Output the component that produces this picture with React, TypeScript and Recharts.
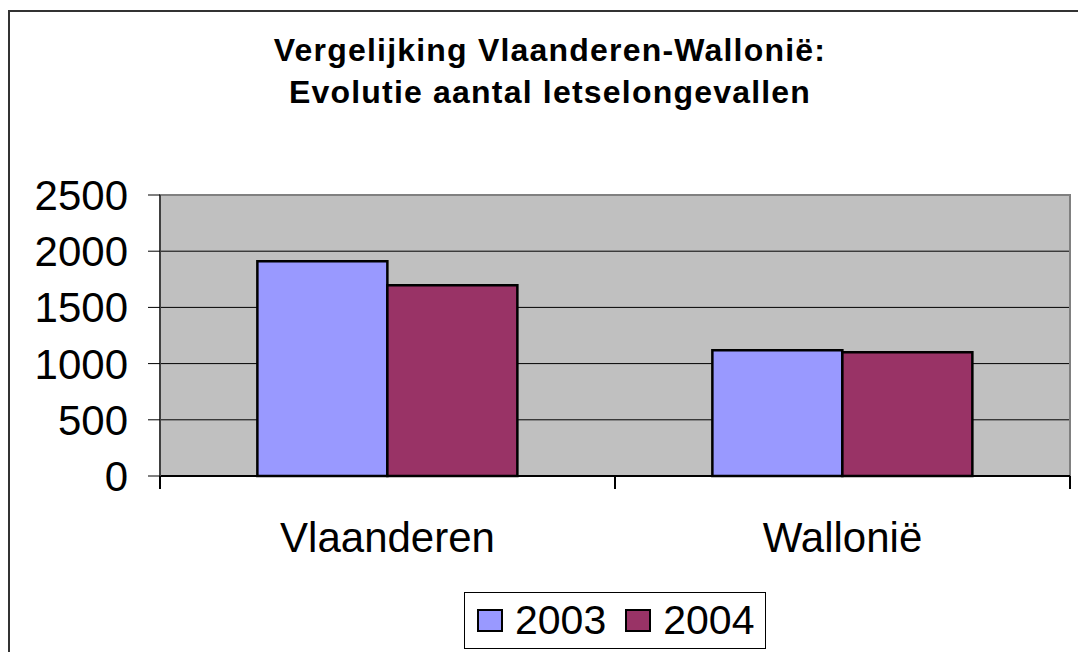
import React from 'react';
import {
  BarChart,
  Bar,
  XAxis,
  YAxis,
  CartesianGrid,
  Legend,
  ReferenceArea,
} from 'recharts';

const categories = ['Vlaanderen', 'Wallonië'];
const values2003 = [1910, 1118];
const values2004 = [1697, 1100];
const yTicks = [0, 500, 1000, 1500, 2000, 2500];

const seriesNames = ['2003', '2004'];
const seriesColors = ['#9999FF', '#993366'];

const data = categories.map((name, i) => ({
  name,
  '2003': values2003[i],
  '2004': values2004[i],
}));

const FONT = '"Liberation Sans", Arial, sans-serif';
const LABEL_GAP = 46; // distance from axis line to category label top
const EDGE_TICK = 13;

const LegendBox = () => (
  <div
    style={{
      display: 'flex',
      alignItems: 'center',
      boxSizing: 'border-box',
      border: '1px solid #000',
      height: 57,
      width: 302,
      paddingLeft: 12,
      background: '#fff',
      fontFamily: FONT,
    }}
  >
    {seriesNames.map((s, i) => (
      <div key={s} style={{ display: 'flex', alignItems: 'center', marginRight: 19 }}>
        <span
          style={{
            display: 'inline-block',
            width: 26,
            height: 23,
            boxSizing: 'border-box',
            border: '2px solid #000',
            background: seriesColors[i],
            marginRight: 12,
          }}
        />
        <span style={{ fontSize: 41, lineHeight: 1, color: '#000' }}>{s}</span>
      </div>
    ))}
  </div>
);

// category label plus tick marks on the band edges (Excel style)
const CategoryTick = (props: any) => {
  const { x, y, payload, index, visibleTicksCount } = props;
  const half = payload.offset || 0;
  const axisY = y - LABEL_GAP;
  const isLast = index === (visibleTicksCount ?? categories.length) - 1;
  return (
    <g>
      <line x1={x - half} x2={x - half} y1={axisY} y2={axisY + EDGE_TICK} stroke="#000" strokeWidth={2} />
      {isLast && (
        <line x1={x + half} x2={x + half} y1={axisY} y2={axisY + EDGE_TICK} stroke="#000" strokeWidth={2} />
      )}
      <text x={x} y={y} dy="0.71em" textAnchor="middle" fontSize={42} fill="#000" fontFamily={FONT}>
        {payload.value}
      </text>
    </g>
  );
};

export default function App() {
  return (
    <div style={{ position: 'absolute', left: 0, top: 0, width: 1078, height: 652, fontFamily: FONT, background: '#fff' }}>
      {/* outer chart frame */}
      <div
        style={{
          position: 'absolute',
          left: 8,
          top: 10,
          width: 1070,
          height: 642,
          boxSizing: 'border-box',
          borderLeft: '2px solid #333',
          borderTop: '2px solid #333',
        }}
      />
      <div
        style={{
          position: 'absolute',
          left: 22,
          top: 29,
          width: 1056,
          textAlign: 'center',
          fontWeight: 'bold',
          fontSize: 32,
          lineHeight: '42px',
          letterSpacing: 1.2,
          color: '#000',
        }}
      >
        Vergelijking Vlaanderen-Wallonië:
        <br />
        Evolutie aantal letselongevallen
      </div>
      <div style={{ position: 'absolute', left: 0, top: 0 }}>
        <BarChart
          width={1078}
          height={652}
          data={data}
          margin={{ top: 195, right: 8, left: 0, bottom: 116 }}
          barCategoryGap="21.4%"
          barGap={0}
        >
          <CartesianGrid vertical={false} stroke="#000" fill="#C0C0C0" />
          <ReferenceArea y1={0} y2={2500} fill="none" stroke="#808080" strokeWidth={2} ifOverflow="visible" />
          <XAxis
            dataKey="name"
            height={60}
            tickLine={false}
            tickSize={0}
            tickMargin={LABEL_GAP}
            interval={0}
            axisLine={{ stroke: '#000', strokeWidth: 2 }}
            tick={<CategoryTick />}
          />
          <YAxis
            domain={[0, 2500]}
            ticks={yTicks}
            width={160}
            tickSize={12}
            tickMargin={20}
            interval={0}
            tickLine={{ stroke: '#000' }}
            axisLine={{ stroke: '#404040', strokeWidth: 2 }}
            tick={{ fontSize: 42, fill: '#000', fontFamily: FONT }}
          />
          <Legend
            layout="horizontal"
            verticalAlign="middle"
            align="center"
            content={<LegendBox />}
            wrapperStyle={{ top: 592, left: 464, width: 302, height: 57 }}
          />
          {seriesNames.map((s, i) => (
            <Bar
              key={s}
              dataKey={s}
              fill={seriesColors[i]}
              stroke="#000"
              strokeWidth={2.5}
              isAnimationActive={false}
            />
          ))}
        </BarChart>
      </div>
    </div>
  );
}
